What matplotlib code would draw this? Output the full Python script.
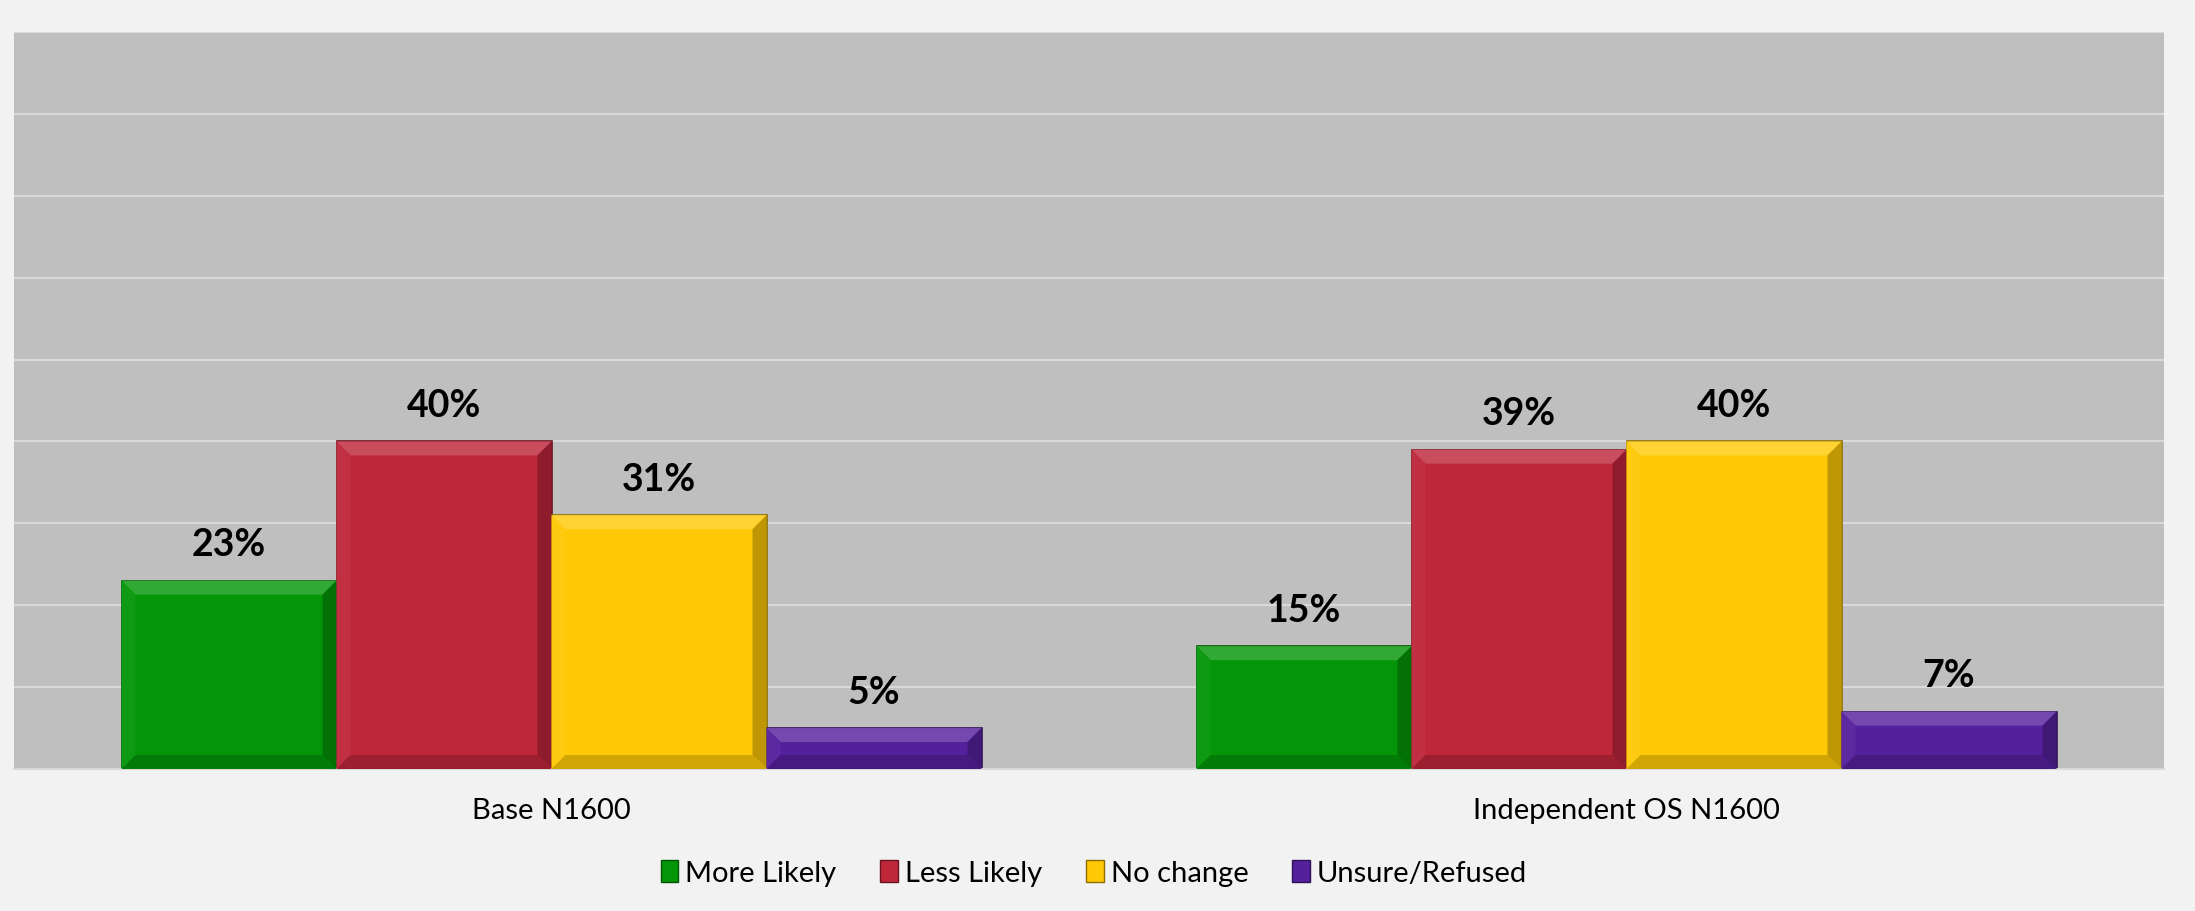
import matplotlib.pyplot as plt
from matplotlib.patches import Patch, Polygon
from matplotlib.colors import to_rgb
import numpy as np

plt.rcParams['font.family'] = ['Lato', 'DejaVu Sans']

# data
groups = ['Base N1600', 'Independent OS N1600']
series = ['More Likely', 'Less Likely', 'No change', 'Unsure/Refused']
more_likely = [23, 15]
less_likely = [40, 39]
no_change = [31, 40]
unsure = [5, 7]
colors = ['#049608', '#BE263A', '#FFC907', '#55209C']

values = [more_likely, less_likely, no_change, unsure]


def shade(c, f):
    c = np.array(to_rgb(c))
    if f > 0:
        return tuple(c + (1 - c) * f)
    return tuple(c * (1 + f))


def bevel(ax, rect, color, b=14):
    # fake excel bevel: four trapezoids round the bar, sized in pixels
    x0, y0 = rect.get_x(), rect.get_y()
    w, h = rect.get_width(), rect.get_height()
    px0, py0 = ax.transData.transform((x0, y0))
    px1, py1 = ax.transData.transform((x0 + w, y0 + h))
    b = min(b, (py1 - py0) / 2.5)
    inv = ax.transData.inverted()
    sides = {
        'top': ([(px0, py1), (px1, py1), (px1 - b, py1 - b), (px0 + b, py1 - b)], 0.18),
        'left': ([(px0, py0), (px0, py1), (px0 + b, py1 - b), (px0 + b, py0 + b)], 0.04),
        'right': ([(px1, py0), (px1, py1), (px1 - b, py1 - b), (px1 - b, py0 + b)], -0.25),
        'bottom': ([(px0, py0), (px1, py0), (px1 - b, py0 + b), (px0 + b, py0 + b)], -0.18),
    }
    for name, (pts, f) in sides.items():
        poly = Polygon(inv.transform(pts), closed=True, facecolor=shade(color, f),
                       edgecolor='none', zorder=3)
        ax.add_patch(poly)


fig = plt.figure(figsize=(21.95, 9.12), dpi=100)
fig.patch.set_facecolor('#F2F2F2')
ax = fig.add_axes([14 / 2195, 1 - 770 / 912, 2150 / 2195, 737 / 912])
ax.set_facecolor('#BFBFBF')

x = np.arange(len(groups))
width = 0.2
ax.set_xlim(-0.5, 1.5)
ax.set_ylim(0, 90)

for i, (vals, col) in enumerate(zip(values, colors)):
    bars = ax.bar(x + (i - 1.5) * width, vals, width, color=col,
                  edgecolor=shade(col, -0.45), linewidth=1.2, zorder=2)
    for rect, v in zip(bars, vals):
        bevel(ax, rect, col)
        ax.annotate(f'{v}%', (rect.get_x() + rect.get_width() / 2, v),
                    xytext=(0, 14), textcoords='offset points', ha='center', va='bottom',
                    fontsize=27, fontweight='bold', color='black')

ax.set_yticks(np.arange(0, 91, 10))
ax.set_yticklabels([])
ax.tick_params(axis='y', length=0)
ax.grid(axis='y', color='#D9D9D9', linewidth=1.5, zorder=0)
ax.set_axisbelow(True)
ax.set_xticks(x)
ax.set_xticklabels(groups, fontsize=21)
ax.tick_params(axis='x', length=0, pad=20)
for s in ['left', 'right', 'top']:
    ax.spines[s].set_visible(False)
ax.spines['bottom'].set_color('#D9D9D9')
ax.spines['bottom'].set_linewidth(1.5)

handles = [Patch(facecolor=c, edgecolor=shade(c, -0.45)) for c in colors]
fig.legend(handles, series, loc='center', bbox_to_anchor=(1094 / 2195, 1 - 874 / 912),
           ncol=4, frameon=False, fontsize=21, handlelength=0.6, handleheight=0.8,
           handletextpad=0.25, columnspacing=1.5)

fig.savefig('out.png', dpi=100, facecolor=fig.get_facecolor())
plt.close()
